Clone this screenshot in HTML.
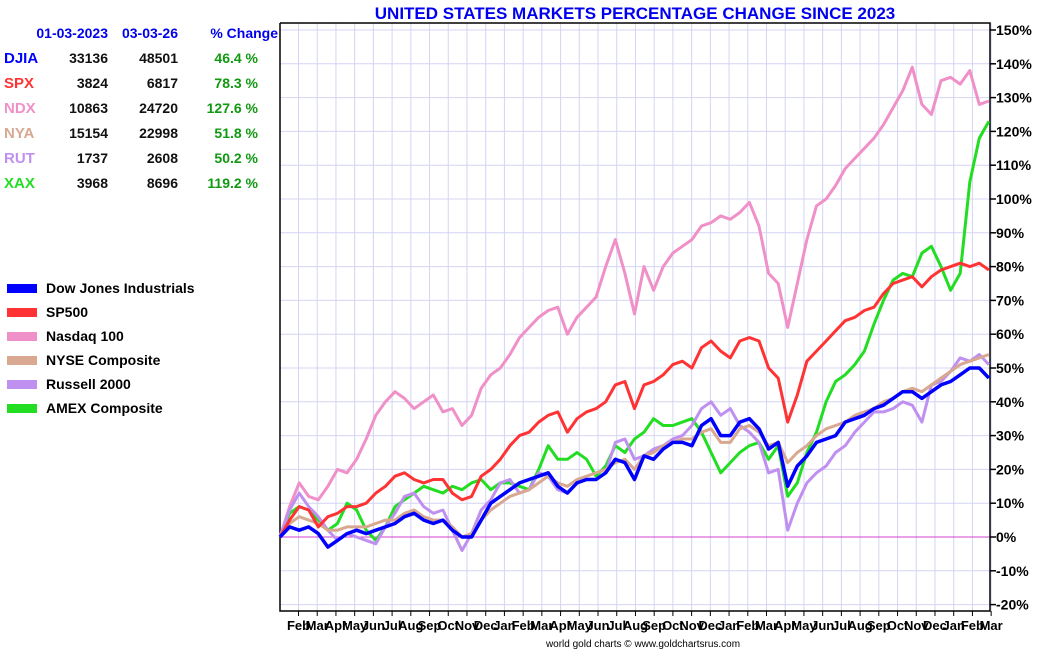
<!DOCTYPE html>
<html><head><meta charset="utf-8"><style>
body{margin:0;background:#fff;width:1050px;height:650px;overflow:hidden;font-family:"Liberation Sans",Arial,sans-serif}
svg{position:absolute;left:0;top:0}
</style></head><body>
<svg id="chart" width="1050" height="650" xmlns="http://www.w3.org/2000/svg"></svg>
<script>
const months=["Feb","Mar","Apr","May","Jun","Jul","Aug","Sep","Oct","Nov","Dec","Jan","Feb","Mar","Apr","May","Jun","Jul","Aug","Sep","Oct","Nov","Dec","Jan","Feb","Mar","Apr","May","Jun","Jul","Aug","Sep","Oct","Nov","Dec","Jan","Feb","Mar"];
const yTicks=[-20,-10,0,10,20,30,40,50,60,70,80,90,100,110,120,130,140,150];
const ndx=[0,9,16,12,11,15,20,19,23,29,36,40,43,41,38,40,42,37,38,33,36,44,48,50,54,59,62,65,67,68,60,65,68,71,80,88,78,66,80,73,80,84,86,88,92,93,95,94,96,99,92,78,75,62,75,88,98,100,104,109,112,115,118,122,127,132,139,128,125,135,136,134,138,128,129];
const spx=[0,5,9,8,3,6,7,9,9,10,13,15,18,19,17,16,17,17,13,11,12,18,20,23,27,30,31,34,36,37,31,35,37,38,40,45,46,38,45,46,48,51,52,50,56,58,55,53,58,59,58,50,47,34,42,52,55,58,61,64,65,67,68,72,75,76,77,74,77,79,80,81,80,81,79];
const djia=[0,3,2,3,1,-3,-1,1,2,1,2,3,4,6,7,5,4,5,2,0,0,5,10,12,14,16,17,18,19,15,13,16,17,17,19,23,22,17,24,23,26,28,28,27,33,35,30,30,34,35,32,26,28,15,21,24,28,29,30,34,35,36,38,39,41,43,43,41,43,45,46,48,50,50,47];
const nya=[0,4,6,5,4,2,2,3,3,3,4,5,5,7,8,6,5,5,3,0,1,5,8,10,12,13,14,16,18,16,15,17,18,19,20,22,23,20,24,25,27,28,29,29,31,32,28,28,32,33,31,27,28,22,25,27,30,32,33,34,36,37,38,40,41,43,44,43,45,47,49,51,52,53,54];
const rut=[0,8,13,9,6,2,-1,1,0,-1,-2,3,7,12,13,9,7,8,2,-4,1,8,11,16,17,13,14,19,18,14,13,16,17,17,19,28,29,23,24,26,27,29,30,33,38,40,36,38,33,31,28,19,20,2,10,16,19,21,25,27,31,34,37,37,38,40,39,34,45,46,49,53,52,54,51];
const xax=[0,7,9,8,5,2,4,10,8,2,-1,3,9,11,13,15,14,13,15,14,16,17,14,16,16,15,14,20,27,23,23,25,23,18,21,27,25,29,31,35,33,33,34,35,31,25,19,22,25,27,28,23,27,12,16,25,31,40,46,48,51,55,63,70,76,78,77,84,86,80,73,78,105,118,123];
const tblSym=["DJIA","SPX","NDX","NYA","RUT","XAX"];
const tblStart=["33136","3824","10863","15154","1737","3968"];
const tblEnd=["48501","6817","24720","22998","2608","8696"];
const tblPct=["46.4 %","78.3 %","127.6 %","51.8 %","50.2 %","119.2 %"];
const legendNames=["Dow Jones Industrials","SP500","Nasdaq 100","NYSE Composite","Russell 2000","AMEX Composite"];
const colors=["#0000ff","#ff3333","#f090c8","#d8a890","#c090f0","#22dd22"];

const NS="http://www.w3.org/2000/svg";
const svg=document.getElementById('chart');
const L=280,R=990,T=23,B=611;
function yS(v){return 537-v*3.38;}
function xS(i){return 280+i*9.58;}
function xM(m){return 298.5+m*18.72;}
function mk(tag,attrs,parent){const e=document.createElementNS(NS,tag);for(const k in attrs)e.setAttribute(k,attrs[k]);(parent||svg).appendChild(e);return e;}
function txt(x,y,s,attrs){const e=mk('text',Object.assign({x:x,y:y},attrs));e.textContent=s;return e;}

// grid
yTicks.forEach(v=>{
  const g=mk('line',{x1:L,x2:R,y1:yS(v),y2:yS(v),stroke:'#d4d4f4','stroke-width':1});
  
  
});
months.forEach((m,i)=>{
  const g=mk('line',{x1:xM(i),x2:xM(i),y1:T,y2:B,stroke:'#d4d4f4','stroke-width':1});
  
  
  const t=mk('line',{x1:xM(i),x2:xM(i),y1:B,y2:B+5,stroke:'#000','stroke-width':1});
  
  
  const l=txt(xM(i),630,m,{'font-size':13,'font-weight':'bold','text-anchor':'middle',fill:'#000'});
  
  
});
const zl=mk('line',{x1:L,x2:R,y1:yS(0),y2:yS(0),stroke:'#d040d0','stroke-width':1});


// axes
const ax=mk('path',{d:`M${L},${T}V${B}H${R}V${T}H${L}`,fill:'none',stroke:'#000','stroke-width':1.5});


yTicks.forEach(v=>{
  const t=mk('line',{x1:R,x2:R+6,y1:yS(v),y2:yS(v),stroke:'#000','stroke-width':1.5});
  
  
  const l=txt(996,yS(v)+5,v+'%',{'font-size':14,'font-weight':'bold',fill:'#000'});
  
  
});
// series
const series=[[ndx,2,'ndx-line'],[xax,5,'xax-line'],[rut,4,'rut-line'],[nya,3,'nya-line'],[spx,1,'spx-line'],[djia,0,'djia-line']];
series.forEach(([d,c,n])=>{
  const p=mk('polyline',{points:d.map((v,i)=>xS(i).toFixed(1)+','+yS(v).toFixed(1)).join(' '),fill:'none',stroke:colors[c],'stroke-width':c===0?3.5:3,'stroke-linejoin':'round'});
  
  
});
// title
const ti=txt(635,19,'UNITED STATES MARKETS PERCENTAGE CHANGE SINCE 2023',{'font-size':17,'font-weight':'bold','text-anchor':'middle',fill:'#0000ee'});


// table
[['01-03-2023',108],['03-03-26',178],['% Change',278]].forEach(([s,x])=>{
  const h=txt(x,38,s,{'font-size':14,'font-weight':'bold','text-anchor':'end',fill:'#0000ee'});
  
  
});
tblSym.forEach((s,i)=>{
  const y=63+i*25;
  const a=txt(4,y,s,{'font-size':15,'font-weight':'bold',fill:colors[i]});
  
  
  const b=txt(108,y,tblStart[i],{'font-size':14,'font-weight':'bold','text-anchor':'end',fill:'#111'});
  
  
  const c=txt(178,y,tblEnd[i],{'font-size':14,'font-weight':'bold','text-anchor':'end',fill:'#111'});
  
  
  const d=txt(258,y,tblPct[i],{'font-size':14,'font-weight':'bold','text-anchor':'end',fill:'#119911'});
  
  
});
// legend
legendNames.forEach((s,i)=>{
  const y=288+i*24;
  const r=mk('rect',{x:7,y:y-4,width:30,height:9,fill:colors[i]});
  
  
  const t=txt(46,y+5,s,{'font-size':14,'font-weight':'bold',fill:'#000'});
  
  
});
const cr=txt(643,647,'world gold charts © www.goldchartsrus.com',{'font-size':10,'text-anchor':'middle',fill:'#000'});


</script>
</body></html>
